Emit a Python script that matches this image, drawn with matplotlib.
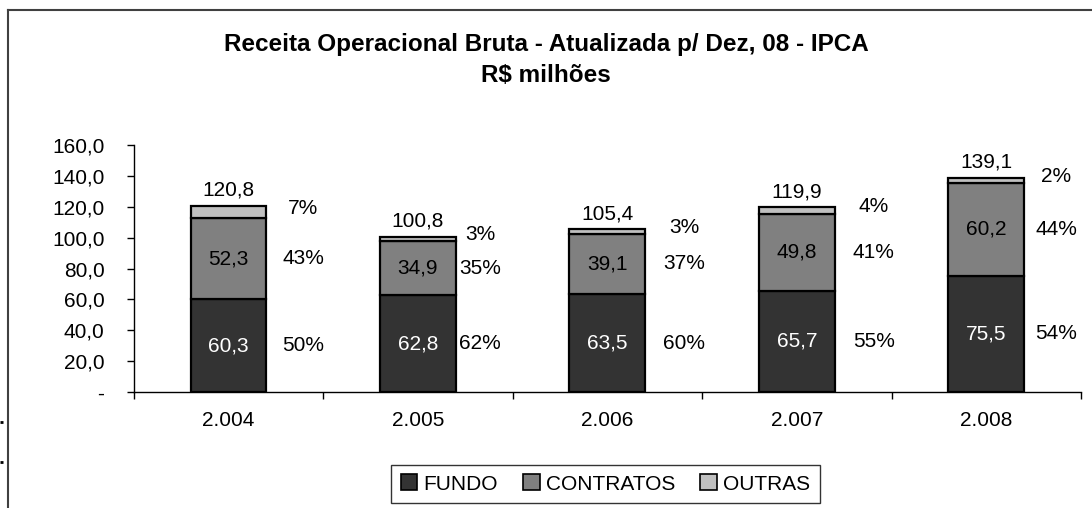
import matplotlib
matplotlib.use("Agg")
import matplotlib.pyplot as plt
from matplotlib.patches import Patch
from matplotlib.lines import Line2D
from matplotlib.transforms import offset_copy
import numpy as np

plt.rcParams['font.family'] = ['Liberation Sans', 'DejaVu Sans']

# data
years = ["2.004", "2.005", "2.006", "2.007", "2.008"]
fundo = [60.3, 62.8, 63.5, 65.7, 75.5]
contratos = [52.3, 34.9, 39.1, 49.8, 60.2]
totals = [120.8, 100.8, 105.4, 119.9, 139.1]
pct_fundo = ["50%", "62%", "60%", "55%", "54%"]
pct_contratos = ["43%", "35%", "37%", "41%", "44%"]
pct_outras = ["7%", "3%", "3%", "4%", "2%"]
outras = [round(t - f - c, 1) for t, f, c in zip(totals, fundo, contratos)]

c_fundo, c_contr, c_outras = "#333333", "#808080", "#c0c0c0"

fig = plt.figure(figsize=(10.92, 5.08), dpi=100)
ax = fig.add_axes([0.1224, 0.2283, 0.99 - 0.1224, 0.714 - 0.2283])

x = np.arange(len(years))
w = 0.4
kw = dict(width=w, edgecolor="black", linewidth=1.6)
ax.bar(x, fundo, color=c_fundo, **kw)
ax.bar(x, contratos, bottom=fundo, color=c_contr, **kw)
bottom2 = [f + c for f, c in zip(fundo, contratos)]
ax.bar(x, outras, bottom=bottom2, color=c_outras, **kw)

ax.set_xlim(-0.5, 4.5)
ax.set_ylim(0, 160)
ax.set_yticks(np.arange(0, 161, 20))
ax.set_yticklabels(["-"] + ["%d,0" % v for v in range(20, 161, 20)])
ax.set_xticks(np.arange(-0.5, 4.6, 1))
ax.set_xticklabels([])
ax.set_xticks(x, minor=True)
ax.set_xticklabels(years, minor=True)
ax.tick_params(axis="x", which="minor", length=0, pad=14, labelsize=15)
ax.tick_params(axis="x", which="major", length=5, direction="out", width=1)
ax.tick_params(axis="y", length=5, direction="out", width=1, labelsize=15, pad=16)
for s in ["top", "right"]:
    ax.spines[s].set_visible(False)
for s in ["left", "bottom"]:
    ax.spines[s].set_linewidth(1)

# labels
pct_off = [75, 62, 77, 77, 70]  # px right of bar centre
for i in range(len(years)):
    ax.text(x[i], fundo[i] / 2, ("%.1f" % fundo[i]).replace(".", ","),
            ha="center", va="center", color="white", fontsize=15)
    ax.text(x[i], fundo[i] + contratos[i] / 2, ("%.1f" % contratos[i]).replace(".", ","),
            ha="center", va="center", color="black", fontsize=15)
    tr_up = offset_copy(ax.transData, fig=fig, x=0, y=6, units="dots")
    ax.text(x[i], totals[i], ("%.1f" % totals[i]).replace(".", ","),
            ha="center", va="bottom", fontsize=15, transform=tr_up)
    tr = offset_copy(ax.transData, fig=fig, x=pct_off[i], y=0, units="dots")
    ax.text(x[i], fundo[i] / 2, pct_fundo[i], ha="center", va="center", fontsize=15, transform=tr)
    ax.text(x[i], fundo[i] + contratos[i] / 2, pct_contratos[i], ha="center", va="center",
            fontsize=15, transform=tr)
    tr3 = offset_copy(ax.transData, fig=fig, x=pct_off[i], y=4, units="dots")
    ax.text(x[i], bottom2[i] + outras[i] / 2, pct_outras[i], ha="center", va="center",
            fontsize=15, transform=tr3)

fig.text(0.5, 1 - 44 / 508, "Receita Operacional Bruta - Atualizada p/ Dez, 08 - IPCA",
         ha="center", va="center", fontsize=17.5, fontweight="bold")
fig.text(0.5, 1 - 75 / 508, "R$ milhões", ha="center", va="center",
         fontsize=17.5, fontweight="bold")

# chart frame (only top and left visible)
fig.add_artist(Line2D([8 / 1092, 8 / 1092], [0, 1 - 10 / 508], transform=fig.transFigure,
                      color="#404040", lw=1.5))
fig.add_artist(Line2D([8 / 1092, 1], [1 - 10 / 508, 1 - 10 / 508], transform=fig.transFigure,
                      color="#404040", lw=1.5))
for yy in [421.5, 461.5]:
    fig.add_artist(Line2D([0, 3 / 1092], [1 - yy / 508] * 2, transform=fig.transFigure,
                          color="black", lw=2, solid_capstyle="butt"))

handles = [Patch(facecolor=c, edgecolor="black", linewidth=1.2) for c in (c_fundo, c_contr, c_outras)]
leg = fig.legend(handles, ["FUNDO", "CONTRATOS", "OUTRAS"], loc="upper center",
                 bbox_to_anchor=(0.5545, 1 - 465 / 508), ncol=3, fontsize=15,
                 frameon=True, fancybox=False, edgecolor="black", handlelength=0.8,
                 handleheight=0.8, handletextpad=0.3, columnspacing=1.2,
                 borderpad=0.45, borderaxespad=0)
leg.get_frame().set_linewidth(1)

fig.savefig("out.png", dpi=100)
